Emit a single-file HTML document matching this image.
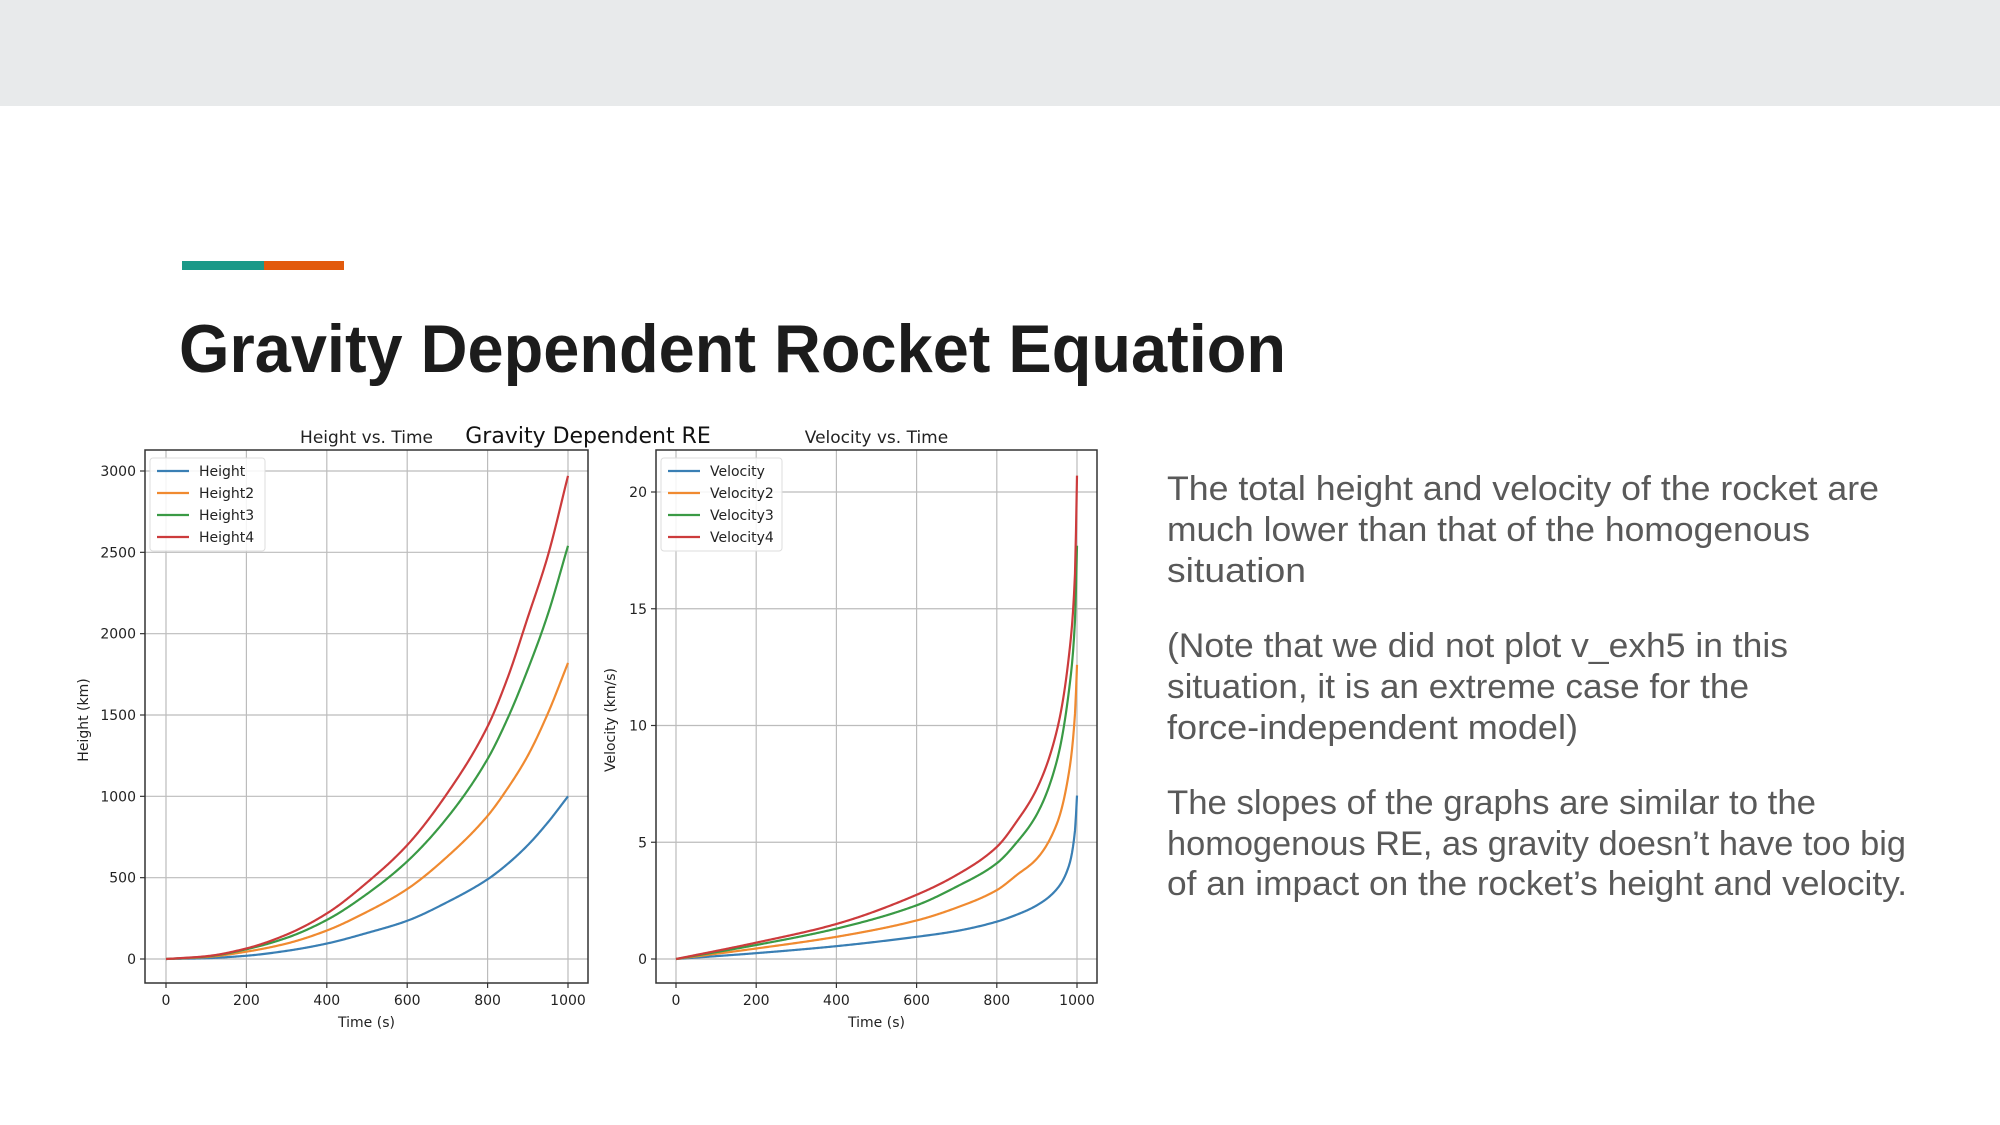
<!DOCTYPE html>
<html><head><meta charset="utf-8"><style>
html,body{margin:0;padding:0;background:#fff;}
svg{display:block;}
</style></head><body>
<svg id="page" width="2000" height="1125" viewBox="0 0 2000 1125" xmlns="http://www.w3.org/2000/svg">
<rect x="0" y="0" width="2000" height="106" fill="#e8eaeb"/>
<rect x="182" y="261" width="82" height="9" fill="#1a9988"/>
<rect x="264" y="261" width="80" height="9" fill="#e25a0c"/>
<text x="179" y="372" font-family="Liberation Sans, sans-serif" font-weight="bold" font-size="68" fill="#1c1c1c" textLength="1107" lengthAdjust="spacingAndGlyphs">Gravity Dependent Rocket Equation</text>
<g font-family="Liberation Sans, sans-serif" font-size="34" fill="#595959">
<text x="1167" y="500" textLength="712" lengthAdjust="spacingAndGlyphs">The total height and velocity of the rocket are</text>
<text x="1167" y="541" textLength="643" lengthAdjust="spacingAndGlyphs">much lower than that of the homogenous</text>
<text x="1167" y="582" textLength="139" lengthAdjust="spacingAndGlyphs">situation</text>
<text x="1167" y="657" textLength="621" lengthAdjust="spacingAndGlyphs">(Note that we did not plot v_exh5 in this</text>
<text x="1167" y="698" textLength="582" lengthAdjust="spacingAndGlyphs">situation, it is an extreme case for the</text>
<text x="1167" y="739" textLength="411" lengthAdjust="spacingAndGlyphs">force-independent model)</text>
<text x="1167" y="814" textLength="649" lengthAdjust="spacingAndGlyphs">The slopes of the graphs are similar to the</text>
<text x="1167" y="855" textLength="739" lengthAdjust="spacingAndGlyphs">homogenous RE, as gravity doesn’t have too big</text>
<text x="1167" y="895" textLength="740" lengthAdjust="spacingAndGlyphs">of an impact on the rocket’s height and velocity.</text>
</g>
<text x="588" y="443" text-anchor="middle" font-family="DejaVu Sans, sans-serif" font-size="22" fill="#111">Gravity Dependent RE</text>
<g id="charts"></g>
</svg>
<script>
const timeH = [0,100,200,300,400,500,600,700,800,850,900,950,1000];
const height1 = [0,5,20,50,95,160,235,350,490,585,700,840,1000];
const height2 = [0,12,45,95,175,290,430,630,880,1050,1250,1510,1820];
const height3 = [0,15,60,130,240,400,600,870,1230,1480,1780,2120,2540];
const height4 = [0,17,65,150,280,470,700,1020,1430,1730,2100,2480,2970];
const timeV = [0,200,400,600,700,800,850,900,950,980,995,1000];
const vel1 = [0,0.25,0.55,0.95,1.2,1.6,1.9,2.3,3.0,4.0,5.5,7.0];
const vel2 = [0,0.45,0.95,1.65,2.2,2.95,3.6,4.3,5.8,8.0,10.5,12.6];
const vel3 = [0,0.6,1.3,2.3,3.1,4.1,5.0,6.2,8.5,11.5,14.5,17.7];
const vel4 = [0,0.7,1.5,2.75,3.6,4.8,5.9,7.3,9.8,13.0,16.5,20.7];
const xTicks = [0,200,400,600,800,1000];
const hTicks = [0,500,1000,1500,2000,2500,3000];
const vTicks = [0,5,10,15,20];
const heightNames = ['Height','Height2','Height3','Height4'];
const velNames = ['Velocity','Velocity2','Velocity3','Velocity4'];
const colors = ['#3a7fb4','#f08a30','#3a9a45','#cc3b3c'];

const NS='http://www.w3.org/2000/svg';
const root=document.getElementById('charts');
function el(tag,attrs,parent){const e=document.createElementNS(NS,tag);for(const k in attrs)e.setAttribute(k,attrs[k]);(parent||root).appendChild(e);return e;}

// monotone cubic interpolation (Fritsch-Carlson) in data space
function monotone(xs,ys){
  const n=xs.length,d=[],m=new Array(n);
  for(let i=0;i<n-1;i++)d.push((ys[i+1]-ys[i])/(xs[i+1]-xs[i]));
  m[0]=d[0];m[n-1]=d[n-2];
  for(let i=1;i<n-1;i++){
    if(d[i-1]*d[i]<=0)m[i]=0;
    else{const h0=xs[i]-xs[i-1],h1=xs[i+1]-xs[i];const w1=2*h1+h0,w2=h1+2*h0;m[i]=(w1+w2)/(w1/d[i-1]+w2/d[i]);}
  }
  return function(x){
    let i=0;while(i<n-2&&x>xs[i+1])i++;
    const h=xs[i+1]-xs[i],t=(x-xs[i])/h,t2=t*t,t3=t2*t;
    return (2*t3-3*t2+1)*ys[i]+(t3-2*t2+t)*h*m[i]+(-2*t3+3*t2)*ys[i+1]+(t3-t2)*h*m[i+1];
  };
}

function drawChart(cfg){
  const g=el('g',{});
  
  
  const X=v=>cfg.x0+v/1000*(cfg.x1-cfg.x0);
  const Y=v=>cfg.y0-(v/cfg.yMax)*(cfg.y0-cfg.yTop);
  xTicks.forEach(t=>{
    const l=el('line',{x1:X(t),x2:X(t),y1:cfg.by0,y2:cfg.by1,stroke:'#bcbcbc','stroke-width':1.2},g);
    
    
    const tk=el('line',{x1:X(t),x2:X(t),y1:cfg.by1,y2:cfg.by1+5,stroke:'#333','stroke-width':1.2},g);
    
    
    const tx=el('text',{x:X(t),y:1005,'text-anchor':'middle','font-family':'DejaVu Sans, sans-serif','font-size':14,fill:'#222'},g);
    tx.textContent=t;
    
    
  });
  cfg.yTicks.forEach(t=>{
    const l=el('line',{x1:cfg.bx0,x2:cfg.bx1,y1:Y(t),y2:Y(t),stroke:'#bcbcbc','stroke-width':1.2},g);
    
    
    const tk=el('line',{x1:cfg.bx0-5,x2:cfg.bx0,y1:Y(t),y2:Y(t),stroke:'#333','stroke-width':1.2},g);
    
    
    const tx=el('text',{x:cfg.bx0-9,y:Y(t)+5,'text-anchor':'end','font-family':'DejaVu Sans, sans-serif','font-size':14,fill:'#222'},g);
    tx.textContent=t;
    
    
  });
  cfg.series.forEach((s,i)=>{
    const f=monotone(cfg.xs,s);
    let d='';
    for(let k=0;k<=400;k++){
      const xv=1000*k/400;
      d+=(k?'L':'M')+X(xv).toFixed(2)+','+Y(f(xv)).toFixed(2);
    }
    const p=el('path',{d:d,fill:'none',stroke:colors[i],'stroke-width':2.2,'stroke-linejoin':'round'},g);
    
    
  });
  const fr=el('rect',{x:cfg.bx0,y:cfg.by0,width:cfg.bx1-cfg.bx0,height:cfg.by1-cfg.by0,fill:'none',stroke:'#333','stroke-width':1.5},g);
  
  
  const lg=el('g',{},g);
  
  
  el('rect',{x:cfg.lx,y:458,width:cfg.lw,height:93,rx:3,fill:'#fff','fill-opacity':0.85,stroke:'#ddd'},lg);
  cfg.names.forEach((n,i)=>{
    const yy=471+i*22;
    const e=el('g',{},lg);
    
    
    el('line',{x1:cfg.lx+7,x2:cfg.lx+39,y1:yy,y2:yy,stroke:colors[i],'stroke-width':2.2},e);
    const t=el('text',{x:cfg.lx+49,y:yy+5,'font-family':'DejaVu Sans, sans-serif','font-size':14,fill:'#222'},e);
    t.textContent=n;
  });
  const tt=el('text',{x:(cfg.bx0+cfg.bx1)/2,y:443,'text-anchor':'middle','font-family':'DejaVu Sans, sans-serif','font-size':17,fill:'#222'},g);
  tt.textContent=cfg.title;
  
  
  const xl=el('text',{x:(cfg.bx0+cfg.bx1)/2,y:1027,'text-anchor':'middle','font-family':'DejaVu Sans, sans-serif','font-size':14,fill:'#222'},g);
  xl.textContent='Time (s)';
  
  
  const yl=el('text',{x:cfg.ylx,y:720,'text-anchor':'middle','font-family':'DejaVu Sans, sans-serif','font-size':14,fill:'#222',transform:'rotate(-90 '+cfg.ylx+' 720)'},g);
  yl.textContent=cfg.ylabel;
  
  
}

drawChart({name:'height-chart',title:'Height vs. Time',ylabel:'Height (km)',bx0:145,bx1:588,by0:450,by1:983,
  x0:166,x1:568,y0:959,yTop:471,yMax:3000,yTicks:hTicks,xs:timeH,series:[height1,height2,height3,height4],
  names:heightNames,lx:150,lw:115,ylx:88});
drawChart({name:'velocity-chart',title:'Velocity vs. Time',ylabel:'Velocity (km/s)',bx0:656,bx1:1097,by0:450,by1:983,
  x0:676,x1:1077,y0:959,yTop:492,yMax:20,yTicks:vTicks,xs:timeV,series:[vel1,vel2,vel3,vel4],
  names:velNames,lx:661,lw:121,ylx:615});
</script>
</body></html>
